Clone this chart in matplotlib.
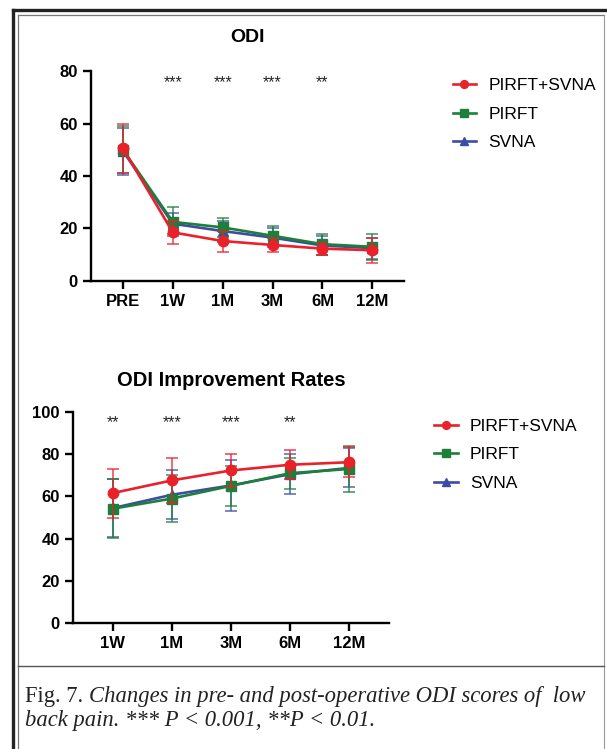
import matplotlib.pyplot as plt
from matplotlib.lines import Line2D

# ---- data ----
odi_labels = ['PRE', '1W', '1M', '3M', '6M', '12M']
odi_combo = [50.5, 18.5, 15.2, 13.7, 12.3, 11.7]
odi_combo_sd = [9.3, 4.5, 4.0, 2.5, 2.3, 4.7]
odi_pirft = [50.0, 22.5, 20.4, 17.2, 14.0, 13.0]
odi_pirft_sd = [9.0, 5.5, 3.7, 3.8, 4.0, 4.9]
odi_svna = [49.5, 21.8, 19.0, 16.5, 13.5, 12.5]
odi_svna_sd = [9.0, 4.0, 4.0, 3.5, 3.5, 4.0]
odi_stars = ['', '***', '***', '***', '**', '']

rate_labels = ['1W', '1M', '3M', '6M', '12M']
rate_combo = [61.6, 67.6, 72.3, 75.0, 76.2]
rate_combo_sd = [11.6, 10.5, 8.0, 6.8, 7.0]
rate_pirft = [54.2, 59.0, 65.0, 71.0, 73.0]
rate_pirft_sd = [14.0, 11.0, 9.5, 7.3, 11.0]
rate_svna = [54.5, 60.8, 65.2, 70.5, 73.5]
rate_svna_sd = [13.8, 11.7, 12.2, 9.5, 9.2]
rate_stars = ['**', '***', '***', '**', '']

legend_names = ['PIRFT+SVNA', 'PIRFT', 'SVNA']

RED = '#E8212B'
GREEN = '#1D7F3A'
BLUE = '#3B4DA6'

plt.rcParams['font.family'] = ['Liberation Sans', 'DejaVu Sans']

fig = plt.figure(figsize=(6.07, 7.49), dpi=100)


def draw_panel(ax, labels, combo, combo_sd, pirft, pirft_sd, svna, svna_sd,
               stars, ymax, star_y, xpad):
    x = list(range(len(labels)))
    series = [
        (svna, svna_sd, BLUE, '^', 'SVNA'),
        (pirft, pirft_sd, GREEN, 's', 'PIRFT'),
        (combo, combo_sd, RED, 'o', 'PIRFT+SVNA'),
    ]
    handles = {}
    for vals, sd, col, mk, name in series:
        ax.errorbar(x, vals, yerr=sd, color=col, ecolor=col, elinewidth=1.1,
                    capsize=4.5, capthick=1.1, alpha=0.85, fmt='none')
        h, = ax.plot(x, vals, color=col, marker=mk, markersize=7.5, lw=1.9,
                     label=name)
        handles[name] = h
    for xi, s in zip(x, stars):
        if s:
            ax.text(xi, star_y, s, ha='center', va='center', fontsize=11.5,
                    color='#222222')
    ax.set_xlim(-xpad, len(labels) - 1 + xpad)
    ax.set_ylim(0, ymax)
    ax.set_yticks(range(0, ymax + 1, 20))
    ax.set_xticks(x)
    ax.set_xticklabels(labels)
    for side in ['top', 'right']:
        ax.spines[side].set_visible(False)
    for side in ['left', 'bottom']:
        ax.spines[side].set_linewidth(1.7)
    ax.tick_params(width=1.7, length=5.5, labelsize=12, pad=4)
    for lab in ax.get_xticklabels() + ax.get_yticklabels():
        lab.set_fontweight('bold')
    return [handles[n] for n in legend_names]


legend_kw = dict(loc='upper left', frameon=False, fontsize=12.5,
                 handlelength=1.35, handletextpad=0.7, labelspacing=0.78,
                 markerscale=0.75)

ax1 = fig.add_axes([0.150, 0.625, 0.516, 0.280])
h1 = draw_panel(ax1, odi_labels, odi_combo, odi_combo_sd, odi_pirft,
                odi_pirft_sd, odi_svna, odi_svna_sd, odi_stars, 80, 75.5,
                0.64)
fig.text(0.407, 1 - 38 / 749, 'ODI', ha='center', va='center',
         fontsize=14, fontweight='bold')
fig.legend(h1, legend_names, bbox_to_anchor=(0.720, 0.917), **legend_kw)

ax2 = fig.add_axes([0.120, 0.168, 0.521, 0.282])
h2 = draw_panel(ax2, rate_labels, rate_combo, rate_combo_sd, rate_pirft,
                rate_pirft_sd, rate_svna, rate_svna_sd, rate_stars, 100, 95,
                0.68)
fig.text(0.381, 1 - 380 / 749, 'ODI Improvement Rates', ha='center',
         va='center', fontsize=14.5, fontweight='bold')
fig.legend(h2, legend_names, bbox_to_anchor=(0.690, 0.462), **legend_kw)

# ---- page frame ----
W, H = 607.0, 749.0


def fx(px):
    return px / W


def fy(py):
    return 1 - py / H


frame = [
    ([fx(13), fx(13)], [fy(10), 0], '#222222', 2.4),
    ([fx(13), 1], [fy(10), fy(10)], '#222222', 2.4),
    ([fx(17.5), fx(17.5)], [fy(14.5), 0], '#777777', 0.9),
    ([fx(17.5), fx(604)], [fy(14.5), fy(14.5)], '#777777', 0.9),
    ([fx(604), fx(604)], [fy(14.5), 0], '#999999', 0.8),
    ([fx(17.5), fx(604)], [fy(666), fy(666)], '#555555', 1.0),
]
for xs, ys, c, lw in frame:
    fig.add_artist(Line2D(xs, ys, color=c, lw=lw, transform=fig.transFigure))

# ---- caption ----
serif = ['Liberation Serif', 'DejaVu Serif']
cap_size = 16.3
t1 = fig.text(fx(25), fy(702), 'Fig. 7. ', family=serif, fontsize=cap_size,
              color='#222222', va='baseline')
fig.text(fx(25), fy(726), 'back pain. *** P < 0.001, **P < 0.01.',
         family=serif, style='italic', fontsize=cap_size, color='#222222',
         va='baseline')
fig.canvas.draw()
bb = t1.get_window_extent()
fig.text(bb.x1 / fig.bbox.width, fy(702),
         'Changes in pre- and post-operative ODI scores of  low',
         family=serif, style='italic', fontsize=cap_size, color='#222222',
         va='baseline')

fig.savefig('out.png', dpi=100)
